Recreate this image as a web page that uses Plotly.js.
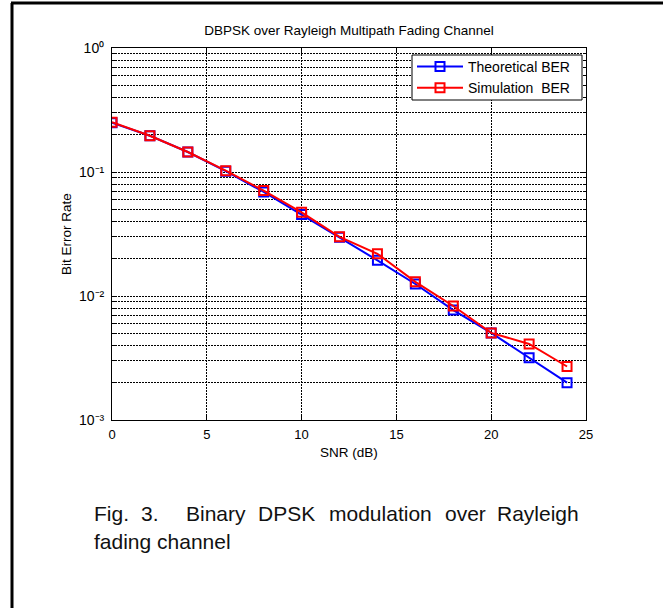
<!DOCTYPE html>
<html>
<head>
<meta charset="utf-8">
<script src="https://cdn.plot.ly/plotly-3.0.1.min.js"></script>
<style>
  html, body { margin: 0; padding: 0; background: #fff; }
  #wrap { position: relative; width: 663px; height: 608px; overflow: hidden; }
  #chart { position: absolute; left: 0; top: 0; width: 663px; height: 608px; }
  .cap { position: absolute; font-family: 'Liberation Sans', Arial, Helvetica, sans-serif;
         font-size: 21px; line-height: 24px; height: 24px; color: #111; white-space: nowrap; }
</style>
</head>
<body>
<div id="wrap">
  <div id="chart"></div>
  <div id="caption"></div>
</div>
<script>
// ---- data ----
const snrDb = [0, 2, 4, 6, 8, 10, 12, 14, 16, 18, 20, 22, 24];
const berTheoretical = [0.250, 0.196, 0.145, 0.1015, 0.0690, 0.0454, 0.0298, 0.0194, 0.0125, 0.0077, 0.00504, 0.00317, 0.00200];
const berSimulation = [0.252, 0.196, 0.145, 0.1025, 0.0708, 0.0473, 0.0300, 0.0219, 0.0130, 0.0083, 0.00504, 0.0041, 0.0027];
const seriesNames = ['Theoretical BER', 'Simulation  BER'];
const yTickVals = [0.001, 0.01, 0.1, 1];
const yTickText = ['10\u207B\u00B3', '10\u207B\u00B2', '10\u207B\u00B9', '10\u2070'];
const yMinorVals = [];
[0.001, 0.01, 0.1].forEach(d => { for (let k = 2; k <= 9; k++) yMinorVals.push(+(d * k).toPrecision(3)); });
const captionWords = ['Fig.', '3.', 'Binary', 'DPSK', 'modulation', 'over', 'Rayleigh'];
const captionLine2 = 'fading channel';
const chartTitle = 'DBPSK over Rayleigh Multipath Fading Channel';

// ---- caption (justified line placed word by word, as in the reference) ----
const capWordLeft = [94, 141, 186, 258, 329, 445, 497];
const capBox = document.getElementById('caption');
captionWords.forEach((w, i) => {
  const s = document.createElement('div');
  s.className = 'cap'; s.textContent = w;
  s.style.left = capWordLeft[i] + 'px'; s.style.top = (514 - 12) + 'px';
  capBox.appendChild(s);
});
{
  const s = document.createElement('div');
  s.className = 'cap'; s.textContent = captionLine2;
  s.style.left = '94px'; s.style.top = (542 - 12) + 'px';
  capBox.appendChild(s);
}

// ---- layout geometry ----
const W = 663, H = 608;
const M = { l: 112, r: 77, t: 48, b: 188 };
const pw = W - M.l - M.r, ph = H - M.t - M.b;
const px2x = px => (px - M.l) / pw;
const py2y = py => (H - M.b - py) / ph;

const FONT = 'Liberation Sans, Arial, Helvetica, sans-serif';

const traces = [
  { x: snrDb, y: berTheoretical, name: seriesNames[0], mode: 'lines+markers',
    line: { color: '#0000ff', width: 2 },
    marker: { symbol: 'square-open', size: 9, color: '#0000ff', line: { width: 2, color: '#0000ff' } } },
  { x: snrDb, y: berSimulation, name: seriesNames[1], mode: 'lines+markers',
    line: { color: '#ff0000', width: 2 },
    marker: { symbol: 'square-open', size: 9, color: '#ff0000', line: { width: 2, color: '#ff0000' } } }
];

const shapes = [
  { type: 'line', xref: 'paper', yref: 'paper', x0: px2x(12), x1: px2x(12), y0: py2y(3), y1: py2y(610), line: { color: '#000', width: 3 } },
  { type: 'line', xref: 'paper', yref: 'paper', x0: px2x(11), x1: px2x(665), y0: py2y(3), y1: py2y(3), line: { color: '#000', width: 3 } },
  // legend box
  { type: 'rect', xref: 'paper', yref: 'paper', layer: 'above',
    x0: px2x(412), x1: px2x(582), y0: py2y(100), y1: py2y(55),
    fillcolor: '#fff', line: { color: '#000', width: 1 } }
];

const gridStyle = { gridcolor: '#000', griddash: '2px,1px', gridwidth: 1 };

const layout = {
  width: W, height: H,
  margin: M,
  paper_bgcolor: 'rgba(0,0,0,0)', plot_bgcolor: '#fff',
  font: { family: FONT, size: 13, color: '#000' },
  showlegend: true,
  title: { text: chartTitle, font: { family: FONT, size: 13.5, color: '#000' },
           xref: 'paper', x: 0.5, xanchor: 'center', yref: 'container', y: 1 - 30 / H, yanchor: 'middle' },
  xaxis: Object.assign({
    type: 'linear', range: [0, 25], dtick: 5, tick0: 0,
    showline: true, linecolor: '#000', linewidth: 1, mirror: 'allticks',
    ticks: 'inside', ticklen: 5, tickcolor: '#000',
    showgrid: true, zeroline: false,
    tickfont: { family: FONT, size: 13, color: '#000' },
    ticklabelstandoff: 2,
    title: { text: 'SNR (dB)', font: { family: FONT, size: 13.5, color: '#000' }, standoff: 6 }
  }, gridStyle),
  yaxis: Object.assign({
    type: 'log', range: [-3, 0],
    tickmode: 'array', tickvals: yTickVals, ticktext: yTickText,
    showline: true, linecolor: '#000', linewidth: 1, mirror: 'allticks',
    ticks: 'inside', ticklen: 5, tickcolor: '#000',
    showgrid: true, zeroline: false,
    tickfont: { family: FONT, size: 14, color: '#000' },
    ticklabelstandoff: 4,
    minor: { tickmode: 'array', tickvals: yMinorVals, ticks: 'inside', ticklen: 3, tickcolor: '#000',
             showgrid: true, gridcolor: '#000', griddash: '2px,1px', gridwidth: 1 },
    title: { text: 'Bit Error Rate', font: { family: FONT, size: 13.5, color: '#000' }, standoff: 4 }
  }, gridStyle),
  legend: {
    x: px2x(412), y: py2y(51), xanchor: 'left', yanchor: 'top',
    bgcolor: 'rgba(0,0,0,0)', bordercolor: '#000', borderwidth: 0,
    font: { family: FONT, size: 14, color: '#000' },
    itemwidth: 46, tracegroupgap: 0
  },
  shapes: shapes
};

Plotly.newPlot('chart', traces, layout, { displayModeBar: false, staticPlot: true });
</script>
</body>
</html>
